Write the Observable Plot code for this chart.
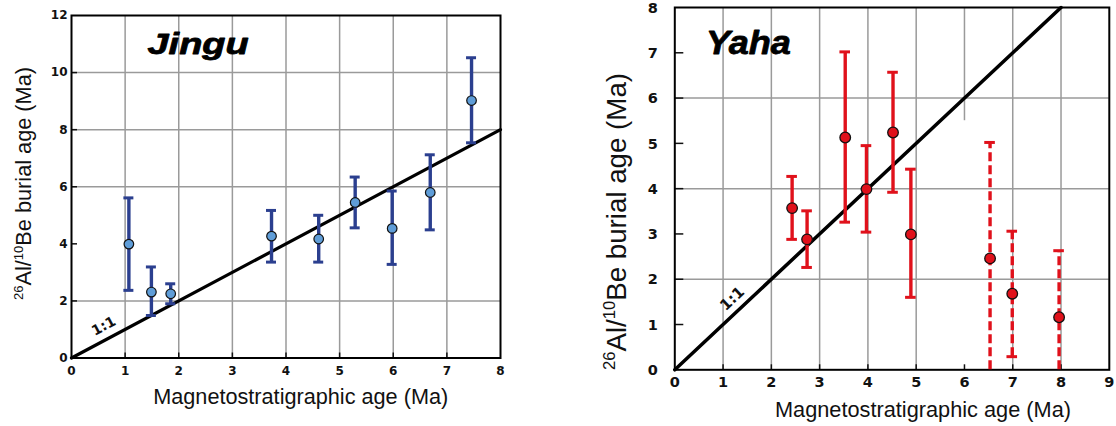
<!DOCTYPE html>
<html><head><meta charset="utf-8">
<script src="https://cdn.jsdelivr.net/npm/d3@7"></script>
<script src="https://cdn.jsdelivr.net/npm/@observablehq/plot@0.6"></script>
<style>
body{margin:0;background:#fff;}
#wrap{position:relative;width:1116px;height:426px;overflow:hidden;background:#fff;}
.panel{position:absolute;top:0;}
</style></head><body>
<div id="wrap"><div id="left" class="panel" style="left:0"></div><div id="right" class="panel" style="left:558px"></div></div>
<script>
// ---- Jingu (left panel) ----
const jinguMag    = [1.07, 1.49, 1.85, 3.73, 4.61, 5.29, 5.98, 6.69, 7.46];
const jinguBurial = [3.99, 2.31, 2.25, 4.27, 4.17, 5.45, 4.54, 5.80, 9.02];
const jinguLow    = [2.37, 1.49, 1.90, 3.36, 3.36, 4.56, 3.28, 4.49, 7.54];
const jinguHigh   = [5.61, 3.19, 2.60, 5.17, 5.00, 6.34, 5.85, 7.12, 10.52];
const jinguXTicks = [0, 1, 2, 3, 4, 5, 6, 7, 8];
const jinguYTicks = [0, 2, 4, 6, 8, 10, 12];
const jinguXGrid  = [1, 2, 3, 4, 5, 6, 7];
const jinguYGrid  = [2, 6, 8, 10];

// ---- Yaha (right panel) ----
const yahaMag    = [2.43, 2.74, 3.53, 3.97, 4.52, 4.89, 6.53, 6.99, 7.96];
const yahaBurial = [3.57, 2.88, 5.13, 3.99, 5.24, 2.99, 2.46, 1.68, 1.16];
const yahaLow    = [2.88, 2.26, 3.26, 3.04, 3.92, 1.60, 0, 0.29, 0];
const yahaHigh   = [4.27, 3.51, 7.02, 4.95, 6.57, 4.43, 5.02, 3.06, 2.63];
const yahaDashed = [false, false, false, false, false, false, true, true, true];
const yahaXTicks = [0, 1, 2, 3, 4, 5, 6, 7, 8, 9];
const yahaYTicks = [0, 1, 2, 3, 4, 5, 6, 7, 8];
const yahaXGrid  = [1, 2, 3, 4, 5, 7, 8];
const yahaYGrid  = [2, 4, 6];

const oneToOne = [0, 8];
const panelTitles = ["Jingu", "Yaha"];
const xTitle = "Magnetostratigraphic age (Ma)";
const yTitleParts = [["26", true], ["Al/", false], ["10", true], ["Be burial age (Ma)", false]];

const W = 558, H = 426;
const GRID = "#9a9a9a";

function rows(mag, bur, lo, hi, dashed) {
  return mag.map((m, i) => ({x: m, y: bur[i], lo: lo[i], hi: hi[i], dashed: dashed ? dashed[i] : false}));
}

function axisTitle(svg, cx, cy, rot, size, len, parts) {
  const t = d3.select(svg).append("text")
    .attr("transform", `translate(${cx},${cy}) rotate(${rot})`)
    .attr("text-anchor", "middle")
    .attr("font-family", "'Liberation Sans', Arial, sans-serif")
    .attr("font-size", size).attr("font-weight", "normal").attr("fill", "#111")
    .attr("textLength", len).attr("lengthAdjust", "spacingAndGlyphs");
  let shifted = false;
  for (const [s, sup] of parts) {
    const sp = t.append("tspan").text(s);
    if (sup) { sp.attr("font-size", size * 0.6); if (!shifted) sp.attr("dy", -size * 0.38); shifted = true; }
    else { if (shifted) sp.attr("dy", size * 0.38); shifted = false; }
  }
}

function fitTitle(svg, txt, len) {
  d3.select(svg).selectAll("text").filter(function () { return this.textContent === txt; })
    .attr("textLength", len).attr("lengthAdjust", "spacingAndGlyphs");
}

// ---------- Left panel ----------
{
  const m = {left: 71, right: 58, top: 15, bottom: 68.5};
  const fw = W - m.left - m.right, fh = H - m.top - m.bottom;
  const data = rows(jinguMag, jinguBurial, jinguLow, jinguHigh);
  const capHalf = 5 / (fw / 8);
  const blue = "#2b3f8f";
  const p = Plot.plot({
    width: W, height: H,
    marginLeft: m.left, marginRight: m.right, marginTop: m.top, marginBottom: m.bottom,
    x: {domain: [0, 8]}, y: {domain: [0, 12]},
    style: {fontFamily: "'DejaVu Sans', sans-serif", fontSize: "12px", fontWeight: "bold", background: "white", color: "#111", overflow: "visible"},
    marks: [
      Plot.gridX(jinguXGrid, {stroke: GRID, strokeOpacity: 1, strokeWidth: 1.5}),
      Plot.gridY(jinguYGrid, {stroke: GRID, strokeOpacity: 1, strokeWidth: 1.5}),
      Plot.tickX(jinguXTicks.slice(1, -1), {x: d => d, insetTop: fh - 5, stroke: "#111", strokeWidth: 1.5}),
      Plot.tickY(jinguYTicks.slice(1, -1), {y: d => d, insetRight: fw - 6, stroke: "#111", strokeWidth: 1.5}),
      Plot.line(oneToOne, {x: d => d, y: d => d, stroke: "#000", strokeWidth: 3.2}),
      Plot.frame({stroke: "#000", strokeWidth: 2}),
      Plot.axisX(jinguXTicks, {tickSize: 0, tickPadding: 8, label: null, fontSize: 12}),
      Plot.axisY(jinguYTicks, {tickSize: 0, tickPadding: 4, label: null, fontSize: 12}),
      Plot.ruleX(data, {x: "x", y1: "lo", y2: "hi", stroke: blue, strokeWidth: 3.4}),
      Plot.ruleY(data, {y: "hi", x1: d => d.x - capHalf, x2: d => d.x + capHalf, stroke: blue, strokeWidth: 3}),
      Plot.ruleY(data, {y: "lo", x1: d => d.x - capHalf, x2: d => d.x + capHalf, stroke: blue, strokeWidth: 3}),
      Plot.dot(data, {x: "x", y: "y", r: 4.8, fill: "#5f9dd8", fillOpacity: 1, stroke: "#111", strokeWidth: 1.2}),
      Plot.text([panelTitles[0]], {x: 2.36, y: 10.99, text: d => d, fontSize: 30, fontWeight: 900, fontStyle: "italic", fontFamily: "'Liberation Sans', Arial, sans-serif", fill: "#000", stroke: "#000", strokeWidth: 0.8, lineAnchor: "middle"}),
      Plot.text(["1:1"], {x: 0.6, y: 1.12, text: d => d, rotate: -28, fontSize: 14, fontWeight: "bold", fill: "#111", lineAnchor: "middle"})
    ]
  });
  document.getElementById("left").appendChild(p);
  fitTitle(p, panelTitles[0], 101);
  axisTitle(p, 300.7, 404, 0, 21.5, 295, [[xTitle, false]]);
  axisTitle(p, 31, 183.5, -90, 21.5, 233, yTitleParts);
}

// ---------- Right panel ----------
{
  const m = {left: 116.3, right: 7.2, top: 7, bottom: 56.7};
  const fw = W - m.left - m.right, fh = H - m.top - m.bottom;
  const data = rows(yahaMag, yahaBurial, yahaLow, yahaHigh, yahaDashed);
  const capHalf = 5.3 / (fw / 9);
  const red = "#e0111b";
  const solid = data.filter(d => !d.dashed), dashed = data.filter(d => d.dashed);
  const p = Plot.plot({
    width: W, height: H,
    marginLeft: m.left, marginRight: m.right, marginTop: m.top, marginBottom: m.bottom,
    x: {domain: [0, 9]}, y: {domain: [0, 8]},
    style: {fontFamily: "'DejaVu Sans', sans-serif", fontSize: "14px", fontWeight: "bold", background: "white", color: "#111", overflow: "visible"},
    marks: [
      Plot.gridX(yahaXGrid, {stroke: GRID, strokeOpacity: 1, strokeWidth: 1.5}),
      Plot.ruleX([6], {x: d => d, y1: 5.5, y2: 8, stroke: GRID, strokeWidth: 1.5}),
      Plot.gridY(yahaYGrid, {stroke: GRID, strokeOpacity: 1, strokeWidth: 1.5}),
      Plot.tickX(yahaXTicks.slice(1, -1), {x: d => d, insetTop: fh - 5, stroke: "#111", strokeWidth: 1.5}),
      Plot.tickY(yahaYTicks.slice(1, -1), {y: d => d, insetRight: fw - 9, stroke: "#111", strokeWidth: 1.5}),
      Plot.line(oneToOne, {x: d => d, y: d => d, stroke: "#000", strokeWidth: 3.5}),
      Plot.frame({stroke: "#000", strokeWidth: 2}),
      Plot.axisX(yahaXTicks, {tickSize: 0, tickPadding: 7, label: null, fontSize: 14.5}),
      Plot.axisY(yahaYTicks, {tickSize: 0, tickPadding: 17, label: null, fontSize: 14.5, dy: 0.5}),
      Plot.ruleX(solid, {x: "x", y1: "lo", y2: "hi", stroke: red, strokeWidth: 3.4}),
      Plot.ruleX(dashed, {x: "x", y1: "lo", y2: "hi", stroke: red, strokeWidth: 3.4, strokeDasharray: "9,4"}),
      Plot.ruleY(data, {y: "hi", x1: d => d.x - capHalf, x2: d => d.x + capHalf, stroke: red, strokeWidth: 3}),
      Plot.ruleY(data.filter(d => d.lo > 0), {y: "lo", x1: d => d.x - capHalf, x2: d => d.x + capHalf, stroke: red, strokeWidth: 3}),
      Plot.dot(data, {x: "x", y: "y", r: 5.3, fill: red, fillOpacity: 1, stroke: "#111", strokeWidth: 1.3}),
      Plot.text([panelTitles[1]], {x: 1.526, y: 7.22, text: d => d, fontSize: 34, fontWeight: 900, fontStyle: "italic", fontFamily: "'Liberation Sans', Arial, sans-serif", fill: "#000", stroke: "#000", strokeWidth: 0.8, lineAnchor: "middle"}),
      Plot.text(["1:1"], {x: 1.19, y: 1.57, text: d => d, rotate: -43, fontSize: 15, fontWeight: "bold", fill: "#111", lineAnchor: "middle"})
    ]
  });
  document.getElementById("right").appendChild(p);
  fitTitle(p, panelTitles[1], 85);
  axisTitle(p, 365, 416.5, 0, 21.5, 296, [[xTitle, false]]);
  axisTitle(p, 67.7, 221.5, -90, 27, 297, yTitleParts);
}
</script>
</body></html>
